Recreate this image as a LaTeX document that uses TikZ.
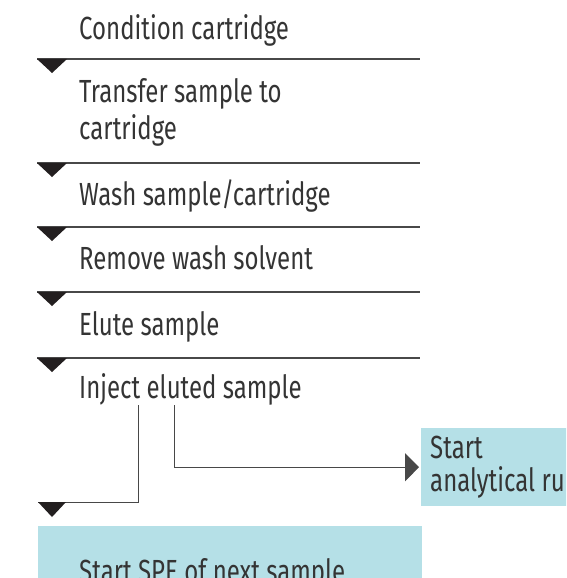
\documentclass[tikz,border=0pt]{standalone}
\usepackage{fontspec}
\setmainfont{Fira Sans}[FakeStretch=0.75]
\usetikzlibrary{arrows.meta}

\begin{document}
\begin{tikzpicture}[x=1pt,y=-1pt]
    % set up palette
    \definecolor{speBlue}{RGB}{181,224,231}
    \definecolor{speText}{RGB}{52,52,52}
    \definecolor{speRule}{RGB}{72,72,72}
    \definecolor{speTip}{RGB}{35,31,32}
    \tikzstyle{every node}=[font=\fontsize{32}{37}\selectfont, text=speText, inner sep=0pt, anchor=base west]
    \tikzstyle{stepRule}=[draw=speRule, line width=1.3pt]
    \tikzstyle{flowLine}=[draw=speRule, line width=1pt]
    \tikzstyle{blueBox}=[fill=speBlue, align=flush left, text height=24pt, text depth=7pt]

    \clip (0,0) rectangle (566,578);

    % label steps
    \node (cond) at (79,40) {Condition cartridge};
    \node[align=flush left] (trans) at (79,139) {Transfer sample to\\cartridge};
    \node (wash) at (79,205) {Wash sample/cartridge};
    \node (remove) at (79,269) {Remove wash solvent};
    \node (elute) at (79,335) {Elute sample};
    \node (inject) at (79,398) {Inject eluted sample};

    % draw separators and flow marks
    \foreach \y in {59,163,227,292,358}{
      \draw[stepRule] (37,\y) -- (420,\y);
      \fill[speTip] (37,\y) -- (67,\y) -- (52,\y+14) -- cycle;
    }

    % outcome boxes
    \node[blueBox, anchor=north west, minimum width=200pt, minimum height=78pt, inner xsep=9pt, text width=182pt,
          font=\fontsize{32}{33}\selectfont, text height=, text depth=] (run) at (421,428) {Start\\analytical run};
    \node[blueBox, anchor=north west, minimum width=384pt, minimum height=96pt, inner xsep=41pt, text width=302pt] (next) at (38,526) {Start SPE of next sample};

    % draw connectors from injection
    \coordinate (injectRun) at ([xshift=95pt]inject.south west);
    \coordinate (injectNext) at ([xshift=59pt]inject.south west);
    \coordinate (nextTurn) at ([yshift=24pt]next.north west);
    \draw[flowLine, -{Triangle[length=14pt,width=28pt]}, shorten >=2pt] (injectRun) |- (run.west);
    \draw[flowLine] (injectNext) |- (nextTurn);
    \fill[speTip] (nextTurn) -- ++(28,0) -- ++(-14,15) -- cycle;

\end{tikzpicture}
\end{document}
